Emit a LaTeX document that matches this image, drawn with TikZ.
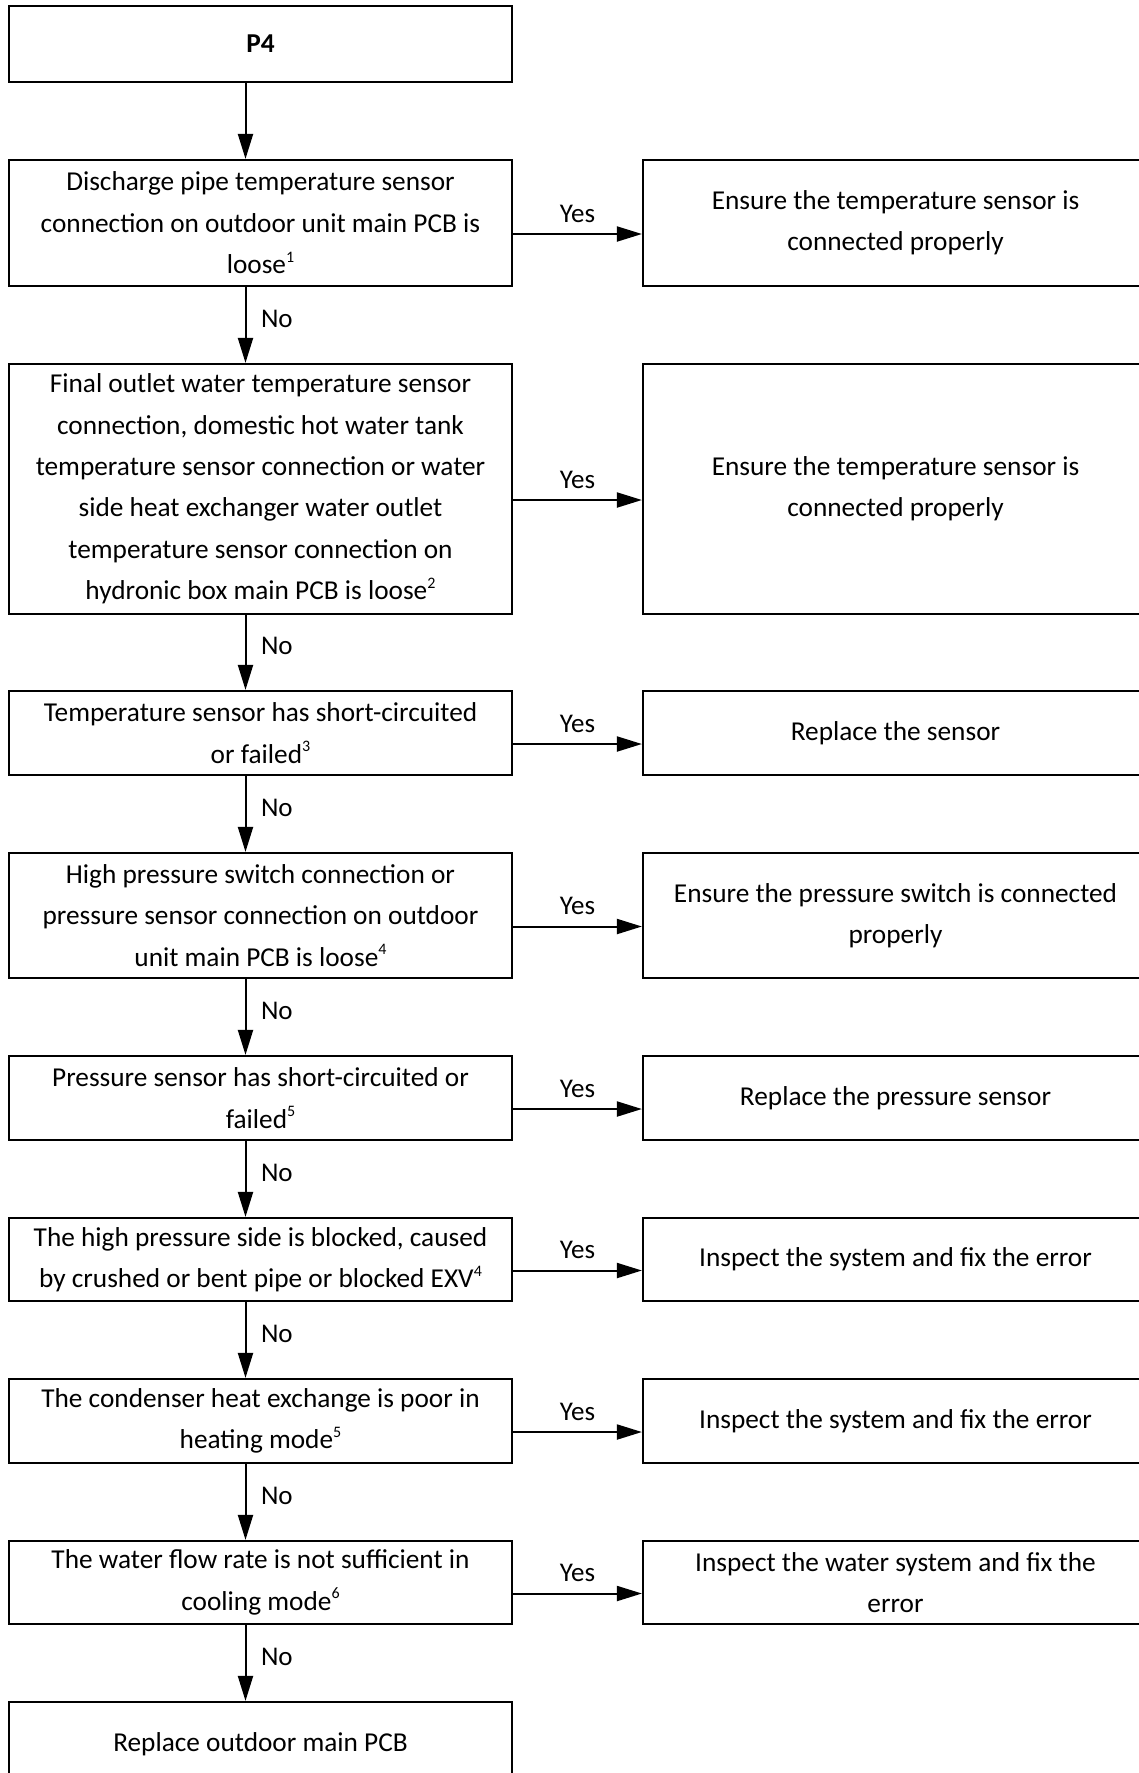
\documentclass[tikz,border=0pt]{standalone}
\usepackage{fontspec}
\setmainfont{Carlito}
\usetikzlibrary{arrows.meta}
\newcommand\supnum[1]{\raisebox{0.42em}{\fontsize{16}{16}\selectfont #1}}
\tikzset{
  box/.style={draw, line width=2.2pt, inner sep=0pt, align=center, font=\fontsize{27.3}{41.4}\selectfont},
  lbox/.style={box, minimum width=503pt},
  rbox/.style={box, minimum width=505pt},
  arr/.style={line width=2pt, -{Triangle[length=25pt,width=15pt]}},
  yeslbl/.style={midway, anchor=base, yshift=12pt, font=\fontsize{27}{32}\selectfont, inner sep=0pt},
  nolbl/.style={midway, anchor=base west, xshift=14.5pt, yshift=-2pt, font=\fontsize{27}{32}\selectfont, inner sep=0pt}
}
\begin{document}
\begin{tikzpicture}[x=1pt, y=-1pt]
\path[use as bounding box] (0,0) rectangle (1139,1773);
\clip (0,0) rectangle (1139,1773);
\coordinate (ax) at (245.5,0);

\node[lbox, minimum height=76pt] (p4) at (260.5,44) {\textbf{P4}};
\node[lbox, minimum height=126pt] (b2) at (260.5,223) {Discharge pipe temperature sensor\\connection on outdoor unit main PCB is\\loose\supnum{1}};
\node[lbox, minimum height=250pt] (b3) at (260.5,489) {Final outlet water temperature sensor\\connection, domestic hot water tank\\temperature sensor connection or water\\side heat exchanger water outlet\\temperature sensor connection on\\hydronic box main PCB is loose\supnum{2}};
\node[lbox, minimum height=84pt] (b4) at (260.5,733) {Temperature sensor has short-circuited\\or failed\supnum{3}};
\node[lbox, minimum height=125pt] (b5) at (260.5,915.5) {High pressure switch connection or\\pressure sensor connection on outdoor\\unit main PCB is loose\supnum{4}};
\node[lbox, minimum height=84pt] (b6) at (260.5,1098) {Pressure sensor has short-circuited or\\failed\supnum{5}};
\node[lbox, minimum height=83pt] (b7) at (260.5,1259.5) {The high pressure side is blocked, caused\\by crushed or bent pipe or blocked EXV\supnum{4}};
\node[lbox, minimum height=84pt] (b8) at (260.5,1421) {The condenser heat exchange is poor in\\heating mode\supnum{5}};
\node[lbox, minimum height=83pt] (b9) at (260.5,1582.5) {The water flow rate is not sufficient in\\cooling mode\supnum{6}};
\node[lbox, minimum height=84pt] (b10) at (260.5,1744) {Replace outdoor main PCB};

\node[rbox, minimum height=126pt] (r2) at (895.5,223) {Ensure the temperature sensor is\\connected properly};
\node[rbox, minimum height=250pt] (r3) at (895.5,489) {Ensure the temperature sensor is\\connected properly};
\node[rbox, minimum height=84pt] (r4) at (895.5,733) {Replace the sensor};
\node[rbox, minimum height=125pt] (r5) at (895.5,915.5) {Ensure the pressure switch is connected\\properly};
\node[rbox, minimum height=84pt] (r6) at (895.5,1098) {Replace the pressure sensor};
\node[rbox, minimum height=83pt] (r7) at (895.5,1259.5) {Inspect the system and fix the error};
\node[rbox, minimum height=84pt] (r8) at (895.5,1421) {Inspect the system and fix the error};
\node[rbox, minimum height=83pt] (r9) at (895.5,1582.5) {Inspect the water system and fix the\\error};

\draw[arr] (p4.south -| ax) -- (b2.north -| ax);
\draw[arr] (b2.south -| ax) -- (b3.north -| ax) node[nolbl] {No};
\draw[arr] (b3.south -| ax) -- (b4.north -| ax) node[nolbl] {No};
\draw[arr] (b4.south -| ax) -- (b5.north -| ax) node[nolbl] {No};
\draw[arr] (b5.south -| ax) -- (b6.north -| ax) node[nolbl] {No};
\draw[arr] (b6.south -| ax) -- (b7.north -| ax) node[nolbl] {No};
\draw[arr] (b7.south -| ax) -- (b8.north -| ax) node[nolbl] {No};
\draw[arr] (b8.south -| ax) -- (b9.north -| ax) node[nolbl] {No};
\draw[arr] (b9.south -| ax) -- (b10.north -| ax) node[nolbl] {No};

\foreach \l/\r in {b2/r2, b3/r3, b4/r4, b5/r5, b6/r6, b7/r7, b8/r8, b9/r9} {
  \draw[arr] ([yshift=-11pt]\l.east) -- ([yshift=-11pt]\l.east -| \r.west) node[yeslbl] {Yes};
}
\end{tikzpicture}
\end{document}
